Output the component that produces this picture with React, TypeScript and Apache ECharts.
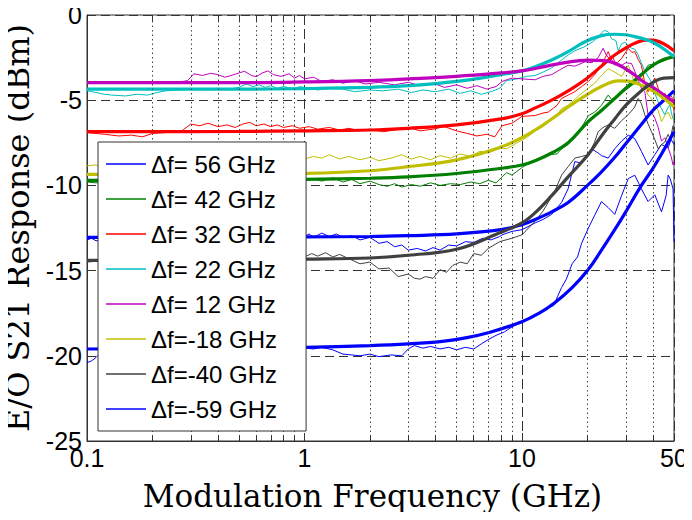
import React, { useEffect, useRef } from "react";
import * as echarts from "echarts";

// ---------- data ----------
const legendNames = [
  "Δf= 56 GHz",
  "Δf= 42 GHz",
  "Δf= 32 GHz",
  "Δf= 22 GHz",
  "Δf= 12 GHz",
  "Δf=-18 GHz",
  "Δf=-40 GHz",
  "Δf=-59 GHz",
];
const colors = ["#0000ff", "#008000", "#ff0000", "#00bfbf", "#bf00bf", "#bfbf00", "#404040", "#0000ff"];

const xTickLabels = ["0.1", "1", "10", "50"];
const yTickValues = [0, -5, -10, -15, -20, -25];
const minorFreqs = [0.2, 0.3, 0.4, 0.5, 0.6, 0.7, 0.8, 0.9, 2, 3, 4, 5, 6, 7, 8, 9, 20, 30, 40];

// fitted (thick) curves: [GHz, dB]
const fit56 = [[0.1,-13.05],[0.5,-13.05],[1,-13.02],[2,-13.0],[3,-12.95],[5,-12.85],[8,-12.6],[10,-12.3],[11.5,-12.0],[13.7,-11.55],[16.3,-11.0],[20,-10.0],[23.2,-9.2],[26.7,-8.35],[30,-7.55],[35,-6.5],[40,-5.6],[45,-5.0],[50,-4.45]];
const fit42 = [[0.1,-9.7],[0.5,-9.68],[1,-9.65],[2,-9.58],[3,-9.5],[5,-9.3],[8,-9.0],[10,-8.8],[11.5,-8.55],[13.7,-8.1],[16.3,-7.5],[20,-6.3],[23.2,-5.6],[26.7,-4.9],[30,-4.3],[35,-3.55],[40,-2.95],[45,-2.6],[50,-2.45]];
const fit32 = [[0.1,-6.85],[0.5,-6.83],[1,-6.8],[2,-6.75],[3,-6.65],[5,-6.45],[8,-6.1],[10,-5.8],[11.5,-5.45],[13.7,-5.0],[16.3,-4.45],[19.5,-3.8],[23.2,-3.0],[26.7,-2.35],[30.8,-1.85],[33,-1.66],[37,-1.47],[40,-1.48],[45,-1.7],[50,-2.1]];
const fit22 = [[0.1,-4.35],[0.5,-4.35],[1,-4.32],[2,-4.25],[3,-4.15],[5,-3.9],[8,-3.5],[10,-3.28],[11.5,-3.03],[13.7,-2.64],[16.3,-2.15],[19.5,-1.57],[23.2,-1.21],[26.7,-1.13],[30,-1.16],[33,-1.27],[36.7,-1.42],[40,-1.6],[45,-2.0],[50,-2.45]];
const fit12 = [[0.1,-3.97],[0.5,-3.97],[1,-3.93],[2,-3.85],[3,-3.75],[5,-3.6],[8,-3.4],[10,-3.28],[13,-3.0],[16,-2.78],[20,-2.65],[24,-2.68],[28,-2.95],[32,-3.4],[36,-3.9],[40,-4.25],[45,-4.7],[50,-5.1]];
const fitM18 = [[0.1,-9.35],[0.5,-9.34],[1,-9.3],[2,-9.14],[3,-8.9],[5,-8.5],[8,-7.75],[10,-7.2],[11.5,-6.75],[13.7,-6.1],[16.3,-5.4],[19.5,-4.75],[23.2,-4.2],[27.7,-3.87],[30.8,-3.88],[35,-4.1],[40,-4.45],[45,-4.9],[50,-5.4]];
const fitM40 = [[0.1,-14.4],[0.5,-14.38],[1,-14.33],[2,-14.26],[3,-14.1],[5,-13.75],[8,-12.75],[10,-12.2],[11.5,-11.6],[13.7,-10.6],[16.3,-9.5],[20,-8.25],[23.2,-7.1],[26.7,-6.1],[30,-5.3],[35,-4.5],[40,-3.95],[45,-3.7],[50,-3.68]];
const fitM59 = [[0.1,-19.6],[0.5,-19.55],[1,-19.5],[2,-19.4],[3,-19.3],[4.3,-19.15],[5.5,-18.95],[7.2,-18.6],[10,-18.0],[12,-17.5],[14.1,-16.9],[17,-16.0],[20,-15.0],[23.2,-13.8],[26.7,-12.6],[30,-11.55],[35,-10.1],[40,-9.0],[45,-7.9],[50,-6.85]];

// measured (thin) curves: [GHz, dB]
const meas56 = [[0.1,-13.2],[0.105,-13.1],[0.11,-13.25],[0.2,-13.1],[0.5,-13.05],[1.0,-13.0],[1.05,-12.85],[1.1,-13.05],[1.2,-12.8],[1.3,-13.0],[1.4,-12.85],[1.5,-13.05],[1.65,-12.95],[1.8,-13.2],[2.0,-13.05],[2.2,-13.4],[2.4,-13.3],[2.6,-13.6],[2.8,-13.5],[3.0,-13.8],[3.3,-13.7],[3.6,-13.85],[3.9,-13.65],[4.2,-13.8],[4.6,-13.5],[5.0,-13.55],[5.5,-13.3],[6.0,-13.35],[6.6,-13.1],[7.2,-13.2],[7.9,-13.0],[8.1,-12.9],[9,-12.7],[10,-12.6],[11.5,-12.2],[12.5,-12.0],[13.7,-11.7],[15.2,-11.0],[16.3,-10.2],[17.5,-8.6],[18.8,-8.7],[19.5,-8.4],[20.9,-7.85],[22.4,-8.1],[23.2,-8.25],[24.9,-8.4],[26.7,-7.85],[28.7,-7.4],[30.8,-7.05],[33,-7.25],[35.4,-8.0],[38,-8.8],[40.8,-8.2],[43.8,-7.6],[47,-7.8],[48.5,-7.3],[50,-7.6]];
const meas42 = [[0.1,-9.8],[0.11,-9.85],[0.12,-9.8],[0.3,-9.75],[0.6,-9.8],[1.0,-9.7],[1.1,-9.6],[1.2,-9.75],[1.35,-9.55],[1.5,-9.8],[1.65,-9.65],[1.8,-9.9],[2.0,-9.75],[2.2,-9.95],[2.4,-10.05],[2.6,-9.9],[2.8,-10.1],[3.1,-9.95],[3.4,-10.05],[3.8,-9.85],[4.2,-10.0],[4.7,-9.9],[5.2,-9.95],[5.8,-9.8],[6.4,-9.9],[7.0,-9.7],[7.6,-9.85],[8.1,-9.5],[8.5,-9.25],[9,-9.4],[10,-8.95],[11.5,-8.5],[12.5,-8.35],[13.2,-8.2],[14.5,-8.15],[15.2,-7.85],[16.3,-7.6],[17.5,-7.1],[18.8,-6.6],[20.2,-5.9],[21.6,-5.7],[23.2,-5.3],[24.9,-4.7],[25.8,-4.95],[26.7,-4.85],[28.7,-4.55],[30.8,-4.3],[33,-4.0],[35.4,-3.5],[37,-3.2],[38,-2.95],[40.8,-2.85],[43.8,-2.75],[47,-2.6],[50,-2.5]];
const meas32 = [[0.1,-6.9],[0.12,-7.0],[0.14,-7.1],[0.16,-7.05],[0.18,-7.15],[0.2,-6.95],[0.23,-6.9],[0.27,-6.85],[0.3,-6.4],[0.33,-6.5],[0.36,-6.35],[0.4,-6.55],[0.44,-6.45],[0.48,-6.6],[0.52,-6.4],[0.56,-6.3],[0.6,-6.5],[0.65,-6.4],[0.7,-6.55],[0.75,-6.45],[0.8,-6.6],[0.88,-6.5],[0.95,-6.65],[1.05,-6.55],[1.15,-6.7],[1.3,-6.6],[1.45,-6.75],[1.6,-6.65],[1.8,-6.8],[2.0,-6.7],[2.3,-6.85],[2.6,-6.75],[3.0,-6.6],[3.4,-6.8],[3.9,-6.7],[4.4,-6.55],[5.0,-6.8],[5.6,-6.95],[6.2,-7.1],[6.9,-7.0],[7.5,-7.15],[8.1,-6.5],[9,-6.35],[10,-5.95],[11.5,-5.9],[12.5,-5.75],[13.2,-5.7],[14.5,-5.3],[15.2,-4.9],[16.3,-4.7],[17.5,-4.5],[18.8,-4.2],[20.2,-3.9],[21.6,-3.5],[23.2,-2.95],[24.9,-2.15],[25.8,-2.6],[26.7,-2.95],[28.7,-2.55],[30.8,-1.95],[32,-2.2],[33,-2.15],[34.2,-2.6],[35.4,-2.95],[36.7,-4.0],[38,-4.5],[39.4,-4.1],[40.8,-3.7],[42.3,-4.3],[43.8,-4.9],[45.4,-4.6],[47,-5.1],[48,-4.7],[49.5,-4.9],[50,-5.6]];
const meas22 = [[0.1,-4.45],[0.11,-4.55],[0.12,-4.65],[0.13,-4.7],[0.15,-4.75],[0.17,-4.65],[0.19,-4.7],[0.21,-4.55],[0.23,-4.45],[0.26,-4.4],[0.3,-4.35],[0.35,-4.35],[0.4,-4.3],[0.45,-4.35],[0.5,-4.25],[0.54,-4.05],[0.58,-4.2],[0.62,-4.1],[0.66,-4.25],[0.7,-4.15],[0.75,-4.3],[0.8,-4.2],[0.9,-4.35],[0.95,-4.2],[1.05,-4.3],[1.15,-4.4],[1.3,-4.3],[1.5,-4.35],[1.7,-4.5],[2.0,-4.4],[2.3,-4.45],[2.7,-4.35],[3.1,-4.55],[3.5,-4.4],[4.0,-4.5],[4.6,-4.35],[5.2,-4.6],[5.8,-4.45],[6.5,-4.65],[7.2,-4.5],[7.9,-4.3],[8.5,-3.85],[9.5,-3.75],[10.5,-3.6],[11.5,-3.55],[12.5,-3.35],[13.7,-3.1],[15,-2.7],[16.3,-2.35],[17.5,-2.1],[19.5,-1.85],[21,-1.6],[22.4,-1.3],[23.2,-1.05],[24,-0.9],[25,-1.0],[25.8,-1.4],[27,-1.5],[27.7,-2.1],[28.7,-1.7],[29.7,-1.6],[31.9,-1.95],[33,-2.0],[34.2,-2.35],[36.7,-3.3],[38,-3.6],[39.4,-3.95],[40.8,-4.6],[42.3,-5.1],[43.8,-5.5],[45.4,-5.85],[47,-5.4],[47.8,-5.3],[49,-5.9],[50,-6.2]];
const meas12 = [[0.1,-3.95],[0.12,-4.0],[0.14,-3.98],[0.17,-3.93],[0.2,-3.97],[0.23,-3.9],[0.26,-3.96],[0.29,-3.85],[0.31,-3.45],[0.34,-3.55],[0.37,-3.42],[0.4,-3.5],[0.43,-3.65],[0.46,-3.55],[0.5,-3.4],[0.53,-3.3],[0.57,-3.55],[0.6,-3.62],[0.64,-3.4],[0.68,-3.28],[0.72,-3.5],[0.78,-3.6],[0.85,-3.45],[0.9,-3.7],[0.95,-3.55],[1.0,-3.75],[1.1,-3.65],[1.2,-3.9],[1.35,-3.8],[1.5,-4.0],[1.7,-3.85],[1.9,-4.05],[2.2,-3.95],[2.6,-4.1],[3.0,-3.95],[3.4,-4.15],[3.9,-4.0],[4.4,-4.25],[5.0,-4.1],[5.6,-4.3],[6.2,-4.15],[6.9,-4.35],[7.6,-4.2],[8.1,-3.9],[9.0,-3.7],[10,-3.75],[11.5,-3.8],[12.5,-3.6],[13.7,-3.5],[15,-3.2],[16.3,-2.95],[17.5,-3.0],[19.5,-2.75],[21,-2.8],[22.4,-2.5],[23.6,-1.95],[24.3,-2.3],[24.9,-2.5],[26,-2.4],[26.7,-2.75],[28.7,-2.95],[30,-2.8],[31.9,-2.85],[33,-3.3],[35.4,-4.3],[36.7,-4.5],[38,-5.85],[39.4,-5.7],[40.8,-6.05],[42.3,-6.6],[43.8,-7.4],[45.4,-7.2],[47,-7.8],[48.5,-8.3],[49.5,-8.8],[50,-8.6]];
const measM18 = [[0.1,-8.85],[0.11,-8.8],[0.12,-8.95],[0.13,-8.75],[0.14,-8.9],[0.2,-8.8],[0.4,-8.7],[0.7,-8.6],[1.0,-8.45],[1.1,-8.3],[1.2,-8.4],[1.3,-8.2],[1.45,-8.45],[1.6,-8.3],[1.8,-8.5],[2.0,-8.35],[2.2,-8.55],[2.5,-8.4],[2.8,-8.2],[3.1,-8.45],[3.4,-8.3],[3.8,-8.5],[4.2,-8.25],[4.7,-8.4],[5.2,-8.15],[5.8,-8.3],[6.4,-8.0],[7.0,-8.1],[7.9,-7.8],[8.5,-7.85],[9.5,-7.5],[10.5,-7.2],[11.5,-6.8],[12.5,-6.55],[13.2,-6.3],[14.5,-5.9],[15.2,-5.5],[16.3,-5.3],[17.5,-4.95],[18.8,-4.6],[20.2,-4.3],[21.6,-4.0],[23.2,-3.55],[24.9,-3.15],[26.7,-3.35],[28.7,-3.6],[30.8,-2.95],[32,-3.5],[33,-4.1],[35.4,-3.55],[36.7,-4.2],[38,-4.7],[39.4,-4.9],[40.8,-5.3],[42.3,-5.6],[43.8,-6.25],[45.4,-5.9],[47,-5.7],[48.5,-6.1],[50,-6.0]];
const measM40 = [[0.1,-14.5],[0.11,-14.45],[0.12,-14.55],[0.3,-14.45],[0.6,-14.4],[1.0,-14.2],[1.08,-14.0],[1.15,-14.15],[1.25,-13.95],[1.35,-14.2],[1.45,-14.05],[1.6,-14.3],[1.8,-14.6],[2.0,-14.5],[2.2,-14.9],[2.45,-14.85],[2.7,-15.35],[3.0,-15.2],[3.2,-15.45],[3.4,-15.5],[3.6,-15.35],[3.9,-15.45],[4.2,-14.95],[4.5,-15.1],[4.8,-14.7],[5.2,-14.5],[5.6,-14.6],[6.0,-14.0],[6.5,-14.1],[7.0,-13.7],[7.9,-13.3],[9,-13.1],[10,-12.9],[11.5,-12.1],[12.5,-11.5],[13.2,-11.0],[14.2,-10.3],[15.2,-9.4],[16.3,-8.9],[17.5,-8.4],[18.8,-8.3],[20.2,-8.2],[21.5,-7.5],[22.4,-6.85],[23.6,-6.6],[24.9,-6.45],[26.7,-6.65],[28.7,-6.2],[30.8,-5.85],[33,-5.4],[34.2,-4.9],[35.4,-5.2],[36.7,-5.85],[38,-6.4],[39.4,-6.85],[40.8,-7.3],[42.3,-7.85],[43.8,-7.6],[45.4,-7.45],[47,-7.0],[48,-7.3],[49.5,-6.5],[50,-6.8]];
const measM59 = [[0.1,-20.4],[0.105,-20.3],[0.11,-20.1],[0.115,-19.85],[0.3,-19.7],[0.6,-19.6],[1.0,-19.55],[1.1,-19.6],[1.2,-19.5],[1.35,-19.65],[1.5,-19.9],[1.65,-19.95],[1.8,-20.0],[2.0,-19.9],[2.2,-20.05],[2.5,-19.95],[2.8,-20.0],[3.0,-19.6],[3.2,-19.4],[3.5,-19.55],[3.8,-19.45],[4.2,-19.6],[4.6,-19.5],[5.0,-19.65],[5.5,-19.5],[6.0,-19.6],[6.5,-19.3],[7.0,-19.05],[7.6,-18.8],[8.3,-18.6],[9,-18.3],[10,-18.0],[11,-17.7],[12,-17.45],[13,-17.2],[14,-17.05],[14.6,-16.5],[15.2,-16.0],[16,-15.5],[17,-14.6],[18,-14.2],[18.8,-13.4],[20.2,-12.5],[21.6,-11.75],[23.2,-10.95],[24.9,-11.3],[26.7,-11.7],[28.7,-10.6],[30.8,-9.6],[33,-9.4],[35.4,-10.2],[38,-10.95],[40.8,-10.55],[43.8,-11.55],[46,-10.6],[47,-9.4],[48,-9.6],[49.5,-10.2],[50,-13.3]];

const measured = [meas56, meas42, meas32, meas22, meas12, measM18, measM40, measM59];
const fitted = [fit56, fit42, fit32, fit22, fit12, fitM18, fitM40, fitM59];

export default function App() {
  const ref = useRef<HTMLDivElement>(null);
  useEffect(() => {
    if (!ref.current) return;
    const chart = echarts.init(ref.current, null, { renderer: "svg" });
    const sans = "Liberation Sans";
    const serif = "DejaVu Serif";

    const series: any[] = [];
    measured.forEach((d, i) => {
      series.push({
        name: legendNames[i],
        type: "line",
        data: d,
        symbol: "none",
        color: colors[i],
        lineStyle: { width: 1, color: colors[i] },
        z: 3,
      });
    });
    fitted.forEach((d, i) => {
      series.push({
        name: "fit " + legendNames[i],
        type: "line",
        data: d,
        symbol: "none",
        smooth: 0.4,
        color: colors[i],
        lineStyle: { width: 3.2, color: colors[i] },
        z: 4,
      });
    });
    // minor grid & minor ticks
    series.push({
      name: "minorgrid",
      type: "line",
      data: [],
      silent: true,
      markLine: {
        silent: true,
        symbol: "none",
        label: { show: false },
        lineStyle: { color: "#444", type: [1.5, 3], width: 1 },
        data: minorFreqs.map((f) => ({ xAxis: f })),
      },
    });
    series.push({
      name: "minorticks",
      type: "line",
      data: [],
      silent: true,
      markLine: {
        silent: true,
        symbol: "none",
        label: { show: false },
        lineStyle: { color: "#333", type: "solid", width: 1 },
        data: [
          ...minorFreqs.map((f) => [{ coord: [f, -25] }, { coord: [f, -24.65] }]),
          ...minorFreqs.map((f) => [{ coord: [f, 0] }, { coord: [f, -0.35] }]),
        ],
      },
    });

    chart.setOption({
      animation: false,
      backgroundColor: "#fff",
      grid: {
        left: 87,
        right: 18,
        top: 15,
        bottom: 79,
        containLabel: false,
        outerBoundsMode: "none",
        show: true,
        borderColor: "#333",
        borderWidth: 1,
        backgroundColor: "transparent",
      },
      legend: {
        data: legendNames,
        orient: "vertical",
        left: 98,
        top: 142,
        icon: "rect",
        itemWidth: 40,
        itemHeight: 1.5,
        itemGap: 11,
        padding: [10, 29, 10, 8],
        backgroundColor: "#fff",
        borderColor: "#333",
        borderWidth: 1,
        selectedMode: false,
        textStyle: { fontFamily: sans, fontSize: 24, color: "#000" },
        z: 10,
      },
      xAxis: {
        type: "log",
        logBase: 10,
        min: 0.1,
        max: 50,
        name: "Modulation Frequency (GHz)",
        nameLocation: "middle",
        nameGap: 39,
        nameTextStyle: { fontFamily: serif, fontSize: 31, color: "#000", padding: [0, 16, 0, 0] },
        axisLine: { show: true, onZero: false, lineStyle: { color: "#333" } },
        axisTick: { show: true, inside: true, length: 8, lineStyle: { color: "#333" } },
        axisLabel: {
          fontFamily: sans,
          fontSize: 25,
          color: "#000",
          margin: 4,
          showMinLabel: true,
          showMaxLabel: true,
          formatter: (v: number) => {
            const s = v < 0.5 ? xTickLabels[0] : String(Math.round(v));
            return xTickLabels.includes(s) ? s : "";
          },
        },
        splitLine: { show: true, lineStyle: { color: "#333", type: [10, 4], width: 1 } },
      },
      yAxis: {
        type: "value",
        min: -25,
        max: 0,
        interval: 5,
        name: "E/O S21 Response (dBm)",
        nameLocation: "middle",
        nameRotate: 90,
        nameGap: 55,
        nameTextStyle: { fontFamily: serif, fontSize: 32, lineHeight: 28, color: "#000" },
        axisLine: { show: true, lineStyle: { color: "#333" } },
        axisTick: { show: true, inside: true, length: 8, lineStyle: { color: "#333" } },
        axisLabel: {
          fontFamily: sans,
          fontSize: 25,
          color: "#000",
          margin: 5,
          formatter: (v: number) => (yTickValues.includes(v) ? String(v) : ""),
        },
        splitLine: { show: true, lineStyle: { color: "#333", type: [9, 5], width: 1 } },
      },
      series,
    });
    return () => chart.dispose();
  }, []);
  return <div ref={ref} style={{ width: 692, height: 520, margin: -8 }} />;
}
